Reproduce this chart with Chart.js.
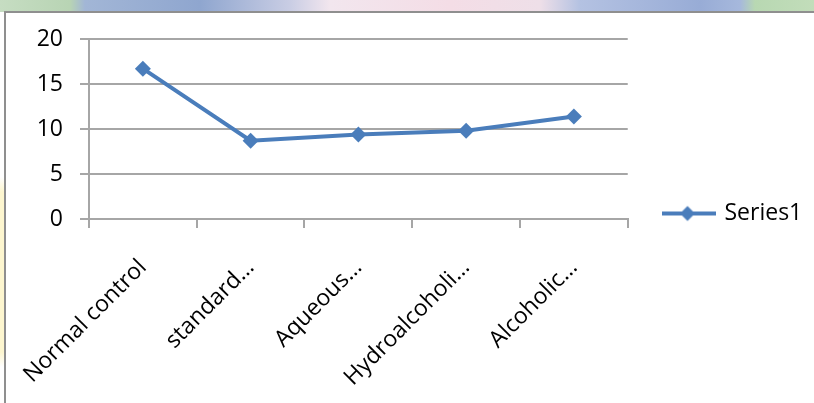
<!DOCTYPE html>
<html>
<head>
<meta charset="utf-8">
<script src="https://cdn.jsdelivr.net/npm/chart.js@4.4.1/dist/chart.umd.min.js"></script>
<style>
  html, body { margin: 0; padding: 0; width: 814px; height: 403px; overflow: hidden; background: #fff; }
  .backdrop-top {
    position: absolute; left: 0; top: 0; width: 814px; height: 12px;
    background: linear-gradient(to right, #c6ddc2 0px, #b8d4b4 70px, #a2b6d6 85px, #8fa6cf 200px,
      #c9cde4 290px, #f2e6ee 330px, #f4dde6 450px, #eedfe8 540px, #b4c2e2 580px,
      #98acd6 700px, #a6b8dc 740px, #b8d8b2 755px, #c2ddba 814px);
  }
  .backdrop-left {
    position: absolute; left: 0; top: 12px; width: 5px; height: 391px;
    background: linear-gradient(to bottom, #fff 0, #fff 165px, #fdf6cf 180px, #fdf6cf 340px, #fff 355px);
  }
  .frame {
    position: absolute; left: 4px; top: 11px; width: 900px; height: 500px;
    border: 2px solid #8f8f8f; background: #fff;
  }
  canvas { position: absolute; left: 0; top: 0; }
</style>
</head>
<body>
<div class="backdrop-top"></div>
<div class="backdrop-left"></div>
<div class="frame"></div>
<canvas id="chart" width="814" height="403"></canvas>
<script>
  // values
  const categories = ['Normal control', 'standard…', 'Aqueous…', 'Hydroalcoholi…', 'Alcoholic…'];
  const series1 = [16.7, 8.7, 9.4, 9.8, 11.4];
  const seriesName = 'Series1';
  const yTicks = [0, 5, 10, 15, 20];

  const LINE = '#4a7dbb';
  const GRID = '#a6a6a6';
  const FONT = { family: "'Open Sans', 'Noto Sans', sans-serif", size: 23 };

  // line + diamond, like the Excel legend key
  function legendMarker() {
    const c = document.createElement('canvas');
    c.width = 56;
    c.height = 18;
    const g = c.getContext('2d');
    g.strokeStyle = LINE;
    g.lineWidth = 4;
    g.beginPath(); g.moveTo(0, 9); g.lineTo(56, 9); g.stroke();
    g.fillStyle = LINE;
    g.beginPath(); g.moveTo(28, 1.5); g.lineTo(35.5, 9); g.lineTo(28, 16.5); g.lineTo(20.5, 9); g.closePath(); g.fill();
    return c;
  }

  // Excel centres the legend on the whole frame, not the plot area
  const legendPlacement = {
    id: 'legendPlacement',
    afterLayout(chart) {
      const lg = chart.legend;
      const h = lg.bottom - lg.top;
      lg.left = 662;
      lg.right = 814;
      lg.top = 202;
      lg.bottom = lg.top + h;
    },
  };

  new Chart(document.getElementById('chart'), {
    type: 'line',
    data: {
      labels: categories,
      datasets: [{
        label: seriesName,
        data: series1,
        borderColor: LINE,
        backgroundColor: LINE,
        borderWidth: 4,
        tension: 0,
        pointStyle: 'rectRot',
        pointRadius: 8,
        pointBorderWidth: 0,
        pointBackgroundColor: LINE,
      }],
    },
    options: {
      responsive: false,
      animation: false,
      devicePixelRatio: 1,
      layout: { padding: { left: 0, top: 39, right: 36, bottom: 0 } },
      plugins: {
        legend: {
          position: 'right',
          align: 'start',
          labels: {
            padding: 0,
            usePointStyle: true,
            pointStyle: legendMarker(),
            pointStyleWidth: 51,
            font: FONT,
            color: '#000',
          },
        },
        tooltip: { enabled: false },
      },
      scales: {
        x: {
          offset: true,
          grid: { offset: true, drawOnChartArea: false, drawTicks: true, tickLength: 9, color: GRID, lineWidth: 2 },
          border: { display: true, color: GRID, width: 2 },
          ticks: { minRotation: 45, maxRotation: 45, autoSkip: false, padding: 26, font: FONT, color: '#000' },
          afterFit(scale) {
            scale.height = 184;
            scale.paddingLeft = 0;
            scale.paddingRight = 0;
          },
        },
        y: {
          min: 0,
          max: 20,
          afterBuildTicks(scale) { scale.ticks = yTicks.map(v => ({ value: v })); },
          ticks: { padding: 17, font: FONT, color: '#000' },
          grid: { color: GRID, lineWidth: 2, tickLength: 9 },
          border: { display: true, color: GRID, width: 2 },
          afterFit(scale) { scale.width = 89; },
        },
      },
    },
    plugins: [legendPlacement],
  });
</script>
</body>
</html>
